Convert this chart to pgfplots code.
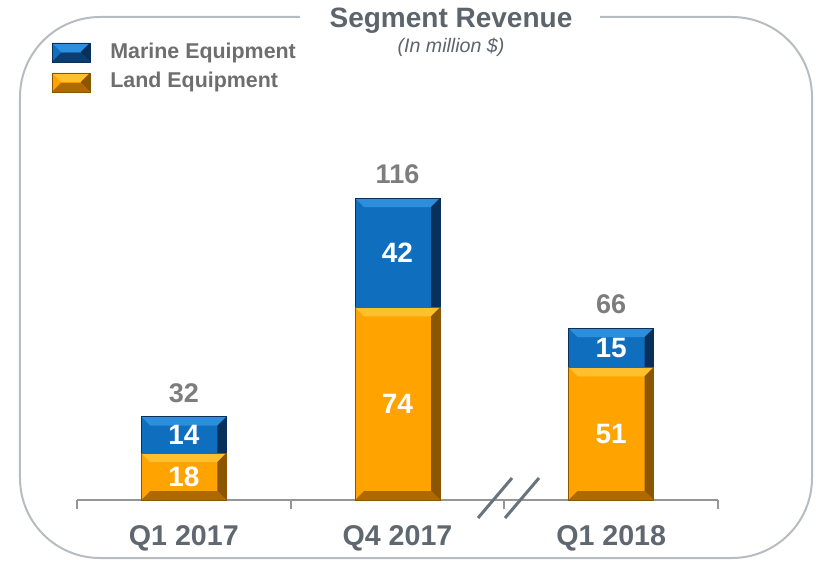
\documentclass[border=0pt]{standalone}
\usepackage{pgfplots}
\pgfplotsset{compat=1.18}
\usepackage{fontspec}
\setmainfont{Liberation Sans}
\definecolor{landc}{RGB}{255,163,0}
\definecolor{landl}{RGB}{255,192,45}
\definecolor{landd}{RGB}{140,86,0}
\definecolor{landb}{RGB}{175,105,0}
\definecolor{marc}{RGB}{16,110,190}
\definecolor{marl}{RGB}{45,142,222}
\definecolor{mard}{RGB}{8,48,90}
\definecolor{marb}{RGB}{10,62,112}
\definecolor{framec}{RGB}{182,188,194}
\definecolor{titlec}{RGB}{92,100,108}
\definecolor{catc}{RGB}{95,103,112}
\definecolor{legc}{RGB}{110,110,110}
\definecolor{totc}{RGB}{125,125,125}
\definecolor{axc}{RGB}{150,150,150}
\definecolor{breakc}{RGB}{105,115,124}
\tikzset{
 bevel/.style n args={3}{path picture={
  \def\bvl{4.5pt}
  \fill[#1, path picture={}, draw=none] (path picture bounding box.north west) -- (path picture bounding box.north east) -- ([shift={(-\bvl,-\bvl)}]path picture bounding box.north east) -- ([shift={(\bvl,-\bvl)}]path picture bounding box.north west) -- cycle;
  \fill[#2, path picture={}, draw=none] (path picture bounding box.north east) -- (path picture bounding box.south east) -- ([shift={(-\bvl,\bvl)}]path picture bounding box.south east) -- ([shift={(-\bvl,-\bvl)}]path picture bounding box.north east) -- cycle;
  \fill[#3, path picture={}, draw=none] (path picture bounding box.south west) -- (path picture bounding box.south east) -- ([shift={(-\bvl,\bvl)}]path picture bounding box.south east) -- ([shift={(\bvl,\bvl)}]path picture bounding box.south west) -- cycle;
 }}
}
\pgfplotsset{
 barstyle/.style={ybar, bar width=42.5pt, bar shift=0pt, line width=0.4pt},
 marbar/.style={barstyle, fill=marc, draw=mard, bevel={marl}{mard}{marb},
   nodes near coords, point meta=explicit symbolic,
   every node near coord/.append style={text=totc, font=\bfseries\fontsize{13.5}{16}\selectfont, anchor=south, yshift=3.5pt}},
 landbar/.style={barstyle, fill=landc, draw=landd, bevel={landl}{landd}{landb}},
 seglab/.style={draw=none, mark=none, nodes near coords, point meta=explicit symbolic,
   every node near coord/.append style={text=white, font=\bfseries\fontsize{14}{16}\selectfont, anchor=center}},
}
\begin{document}
\begin{tikzpicture}
\path[use as bounding box] (-38.5pt,-31.5pt) rectangle (371pt,250pt);
\begin{axis}[
  at={(0pt,0pt)}, anchor=south west,
  scale only axis, width=320.5pt, height=182.2pt,
  xmin=-0.5, xmax=2.5, ymin=0, ymax=140,
  enlargelimits=false, clip=false,
  axis x line*=bottom, axis y line=none, ytick=\empty,
  x axis line style={axc, line width=1pt},
  xtick={0,1,2}, xticklabels={Q1 2017,Q4 2017,Q1 2018},
  major tick length=0pt,
  xticklabel style={text=catc, font=\bfseries\fontsize{14.3}{16}\selectfont, yshift=-9pt},
  extra x ticks={-0.5,0.5,1.5,2.5}, extra x tick labels={},
  extra x tick style={major tick length=4.5pt, tick align=outside, tick style={axc, line width=1pt}},
]
% Marine Equipment stacked on Land Equipment: bar tops at the totals
\addplot[marbar] coordinates {(0,32)[32]};
\addplot[marbar] coordinates {(1,116)[116]};
\addplot[marbar] coordinates {(2,66)[66]};
% Land Equipment
\addplot[landbar] coordinates {(0,18)};
\addplot[landbar] coordinates {(1,74)};
\addplot[landbar] coordinates {(2,51)};
% segment values, centred in each segment
\addplot[seglab] coordinates {(0,9)[18] (1,37)[74] (2,25.5)[51]};
\addplot[seglab] coordinates {(0,25)[14] (1,95)[42] (2,58.5)[15]};
\end{axis}
\begin{scope}[shift={(-38.5pt,250pt)}, x=0.5pt, y=-0.5pt]
 \draw[framec, line width=1pt, rounded corners=40pt] (300,17) -- (20,17) -- (20,558) -- (812,558) -- (812,17) -- (600,17);
 \node[text=titlec, font=\bfseries\fontsize{14}{16}\selectfont] at (451,21) {Segment Revenue};
 \node[text=titlec, font=\itshape\fontsize{9.8}{12}\selectfont] at (451,47) {(In million \$)};
 \draw[draw=mard, fill=marc, line width=0.4pt, bevel={marl}{mard}{marb}] (52,43) rectangle (90,62);
 \draw[draw=landd, fill=landc, line width=0.4pt, bevel={landl}{landd}{landb}] (52,73) rectangle (90,92);
 \node[anchor=west, inner sep=0pt, text=legc, font=\bfseries\fontsize{10.7}{12}\selectfont] at (110,53) {Marine Equipment};
 \node[anchor=west, inner sep=0pt, text=legc, font=\bfseries\fontsize{10.7}{12}\selectfont] at (110,82) {Land Equipment};
 \draw[breakc, line width=1.5pt] (478,518) -- (512,478) (505,518) -- (539,478);
\end{scope}
\end{tikzpicture}
\end{document}
